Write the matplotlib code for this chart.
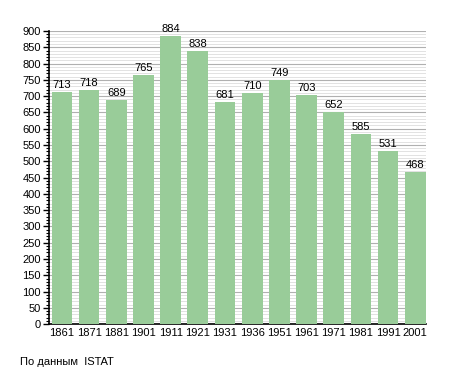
import matplotlib
matplotlib.use("Agg")
import matplotlib.pyplot as plt
from matplotlib.ticker import MultipleLocator

years = ["1861", "1871", "1881", "1901", "1911", "1921", "1931",
         "1936", "1951", "1961", "1971", "1981", "1991", "2001"]
population = [713, 718, 689, 765, 884, 838, 681, 710, 749, 703, 652, 585, 531, 468]

plt.rcParams["font.family"] = ["Liberation Sans", "DejaVu Sans"]
plt.rcParams["font.size"] = 8

fig = plt.figure(figsize=(4.55, 3.73), dpi=100)
ax = fig.add_axes([0.108, 0.131, 0.828, 0.786])

x = range(len(years))
bars = ax.bar(x, population, width=0.76, color="#99cc99", zorder=3)
for b, v in zip(bars, population):
    ax.text(b.get_x() + b.get_width() / 2, v + 6, str(v), ha="center", va="bottom", fontsize=8, zorder=4)

ax.set_ylim(0, 900)
ax.set_xlim(-0.47, 13.39)
ax.yaxis.set_major_locator(MultipleLocator(50))
ax.yaxis.set_minor_locator(MultipleLocator(10))
ax.grid(axis="y", which="major", color="#b0b0b0", linewidth=0.8, zorder=0)
ax.grid(axis="y", which="minor", color="#dddddd", linewidth=0.6, zorder=0)
ax.set_xticks(list(x))
ax.set_xticklabels(years)
ax.tick_params(axis="x", length=0, pad=3)
ax.tick_params(axis="y", which="major", length=4, width=1, direction="out", pad=2)
ax.tick_params(axis="y", which="minor", length=2, width=0.8, direction="out")

for s in ["top", "right"]:
    ax.spines[s].set_visible(False)
ax.spines["left"].set_linewidth(1.2)
ax.spines["bottom"].set_linewidth(1.2)

fig.text(0.044, 0.03, "По данным  ISTAT", fontsize=8, ha="left", va="center")

fig.savefig("out.png", dpi=100)
